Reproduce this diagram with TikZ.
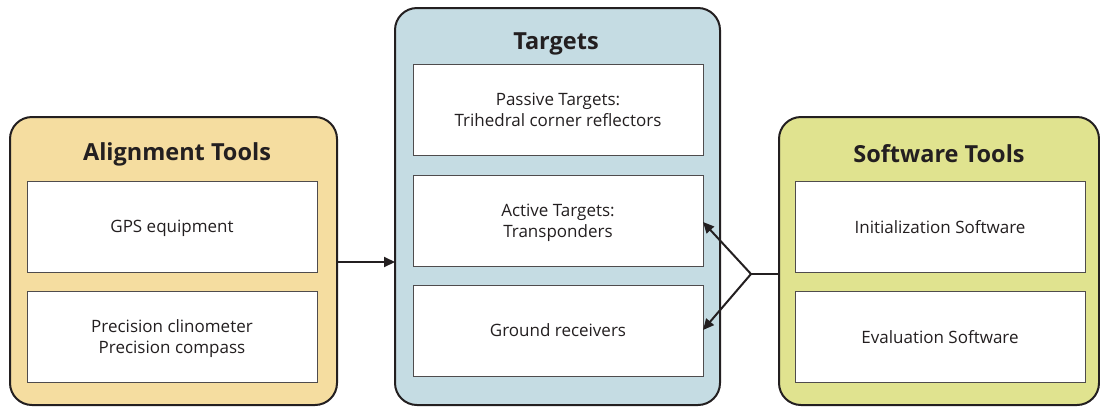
\documentclass[tikz,border=0pt]{standalone}
\usepackage{fontspec}
\setmainfont{Open Sans}
\usetikzlibrary{arrows.meta}
\definecolor{alignfill}{HTML}{F5DDA0}
\definecolor{targfill}{HTML}{C5DCE3}
\definecolor{softfill}{HTML}{E0E38F}
\definecolor{linec}{HTML}{231F20}
\tikzset{
  group/.style={draw=linec, line width=2pt, rounded corners=22pt, inner sep=0pt},
  item/.style={draw=linec!80, line width=0.9pt, fill=white, inner sep=0pt, align=center,
    font=\fontsize{17}{21}\selectfont, text=linec, text depth=0pt,
    minimum width=290pt, minimum height=91pt},
  title/.style={font=\fontsize{23.5}{27}\selectfont\bfseries, text=linec},
  conn/.style={draw=linec, line width=2pt},
  tip/.style={-{Triangle[length=11pt,width=10pt]}}
}
\begin{document}
\begin{tikzpicture}[x=1pt,y=-1pt]
\useasboundingbox (0,0) rectangle (1100,408);
% group backgrounds
\path[group, fill=alignfill] (10,117) rectangle (337,405);
\path[group, fill=targfill] (395,8) rectangle (720,405);
\path[group, fill=softfill] (779,117) rectangle (1099,405);
% titles
\node[title] (talign) at (177,154) {Alignment Tools};
\node[title] (ttarg) at (556,44) {Targets};
\node[title] (tsoft) at (939,154) {Software Tools};
% left items
\node[item] (gps) at (172,226.5) {GPS equipment};
\node[item] (prec) at (172,336.5) {Precision clinometer\\Precision compass};
% middle items
\node[item] (pass) at (558,109.5) {Passive Targets:\\Trihedral corner reflectors};
\node[item] (act) at (558,220.5) {Active Targets:\\Transponders};
\node[item] (grd) at (558,330.5) {Ground receivers};
% right items
\node[item] (init) at (940,226.5) {Initialization Software};
\node[item] (eval) at (940,336.5) {Evaluation Software};
% connectors
\coordinate (aout) at (337,262);
\coordinate (tin) at (395,262);
\coordinate (sout) at (779,274);
\coordinate (junc) at (751,274);
\coordinate (acttip) at (703,222);
\coordinate (grdtip) at (703,330);
\draw[conn, tip] (aout) -- (tin);
\draw[conn] (sout) -- (junc);
\draw[conn, tip] (junc) -- (acttip);
\draw[conn, tip] (junc) -- (grdtip);
\end{tikzpicture}
\end{document}
